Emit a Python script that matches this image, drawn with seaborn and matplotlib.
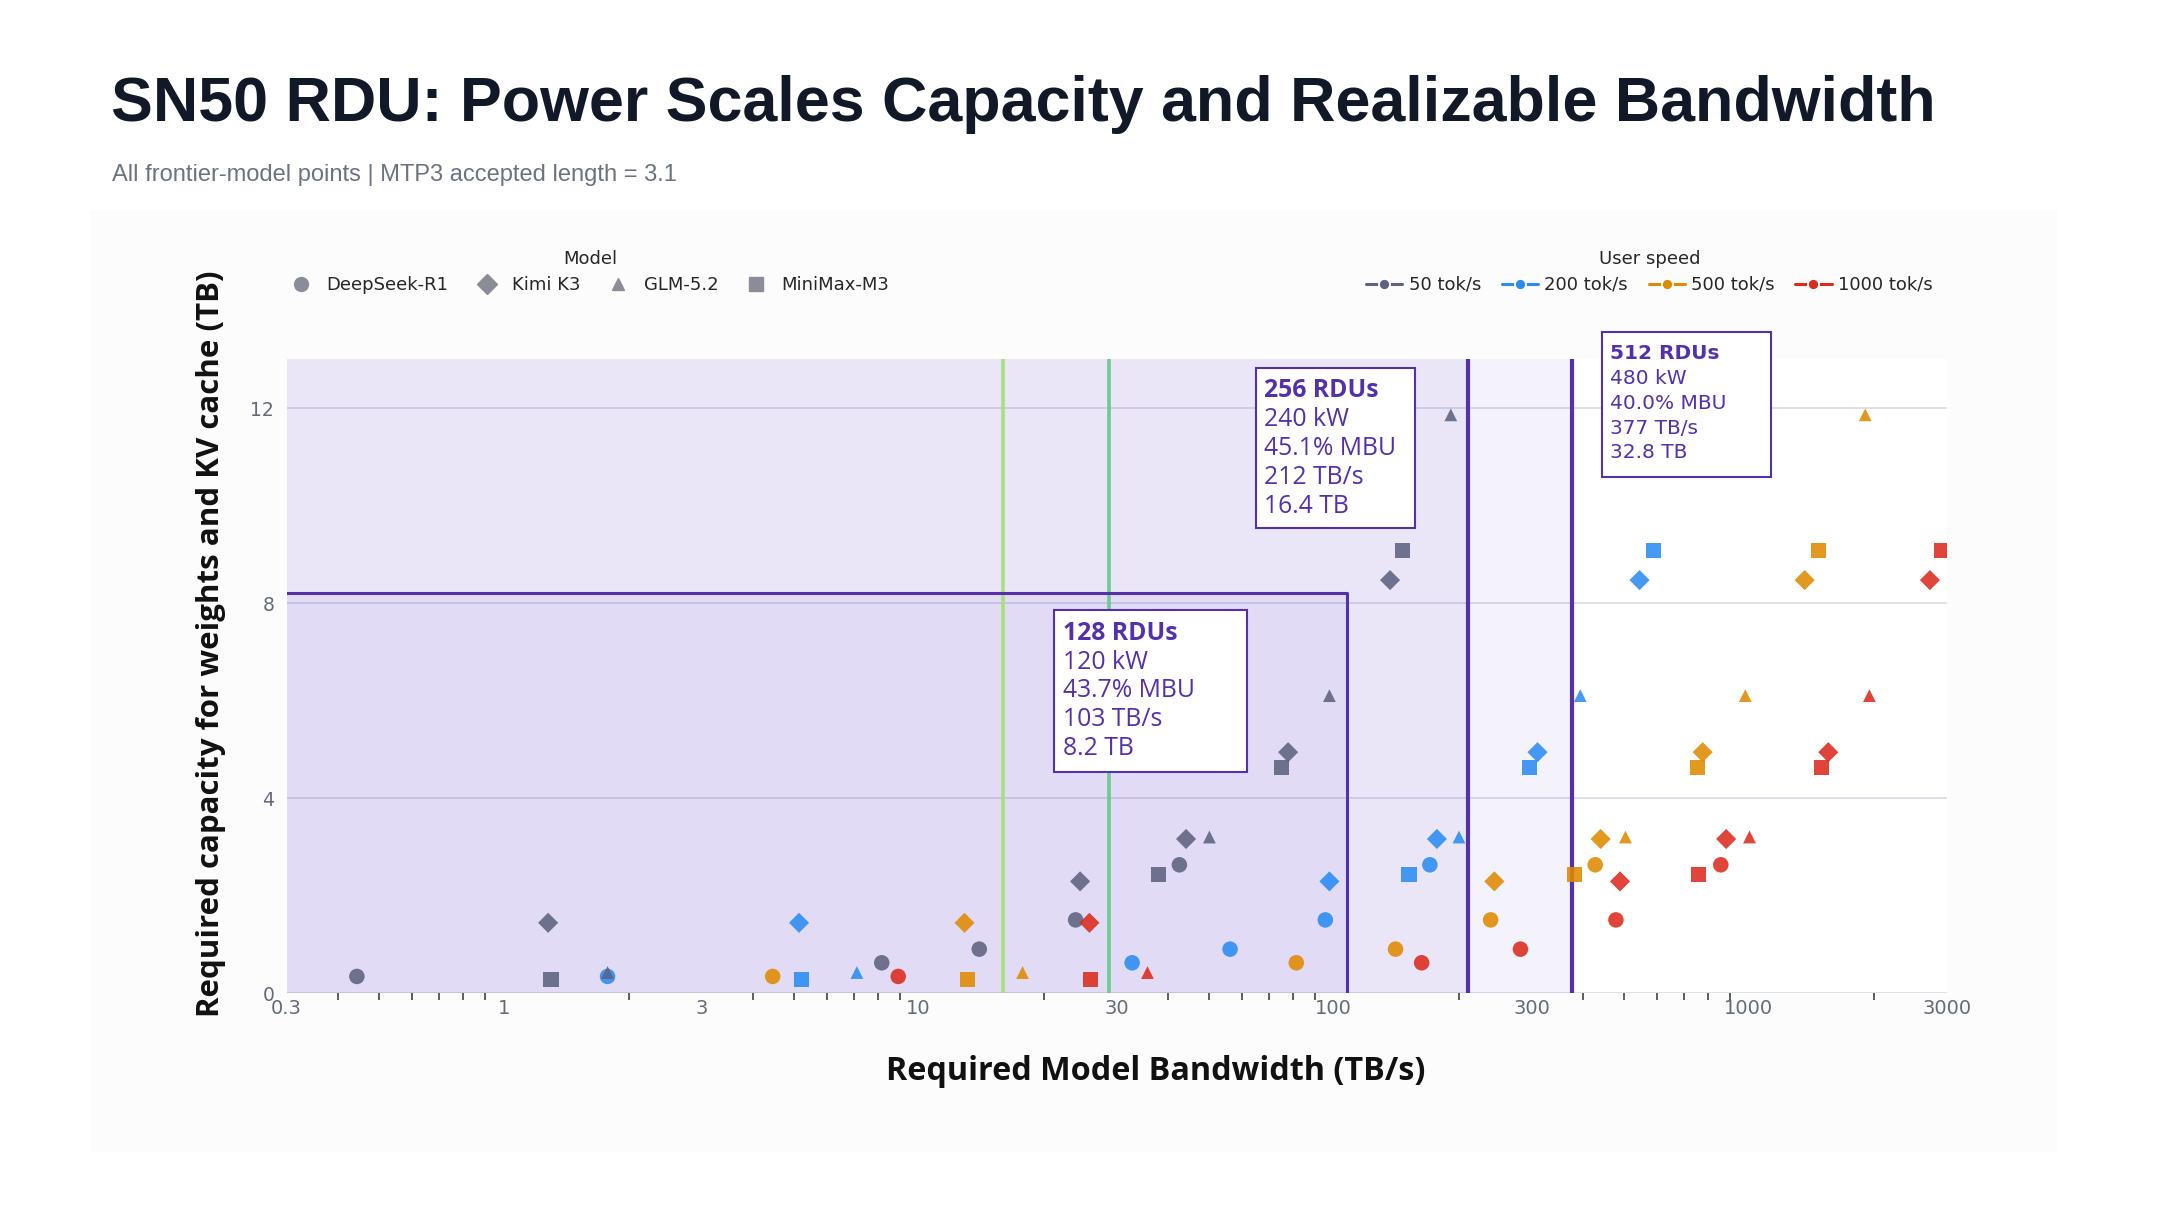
"""SN50 RDU: capacity vs bandwidth for frontier models at several user speeds."""

import matplotlib.pyplot as plt
import matplotlib.ticker as mticker
import pandas as pd
import seaborn as sns
from matplotlib.lines import Line2D
from matplotlib.patches import Rectangle

models = ["DeepSeek-R1", "Kimi K3", "GLM-5.2", "MiniMax-M3"]
model_markers = {"DeepSeek-R1": "o", "Kimi K3": "D", "GLM-5.2": "^", "MiniMax-M3": "s"}
model_sizes = {"DeepSeek-R1": 125, "Kimi K3": 105, "GLM-5.2": 85, "MiniMax-M3": 120}

speeds = ["50 tok/s", "200 tok/s", "500 tok/s", "1000 tok/s"]
speed_colors = {"50 tok/s": "#5d6280", "200 tok/s": "#2b8cf2",
                "500 tok/s": "#e08a00", "1000 tok/s": "#db2b1d"}

# one entry per model configuration (capacity is the same at every speed)
config_model = ["DeepSeek-R1", "Kimi K3", "MiniMax-M3", "GLM-5.2", "DeepSeek-R1",
                "DeepSeek-R1", "DeepSeek-R1", "Kimi K3", "MiniMax-M3", "DeepSeek-R1",
                "Kimi K3", "GLM-5.2", "MiniMax-M3", "Kimi K3", "GLM-5.2",
                "Kimi K3", "MiniMax-M3", "GLM-5.2"]
capacity_tb = [0.34, 1.44, 0.28, 0.42, 0.62, 0.90, 1.50, 2.29, 2.43, 2.63,
               3.16, 3.20, 4.63, 4.94, 6.10, 8.47, 9.07, 11.86]

# required bandwidth (TB/s) per configuration at each user speed
bw_50 = [0.443, 1.28, 1.30, 1.78, 8.15, 14.0, 23.9, 24.5, 37.8, 42.5,
         44.1, 50.2, 74.8, 77.7, 97.7, 136.8, 146.5, 191.6]
bw_200 = [1.78, 5.15, 5.23, 7.1, 32.7, 56.3, 95.5, 97.7, 152, 170.6,
          177.4, 200.5, 296, 310, 393, 546, 589, 766]
bw_500 = [4.45, 12.9, 13.1, 17.8, 81.3, 141, 239, 244, 381, 427,
          440, 505, 752, 775, 982, 1365, 1472, 1910]
bw_1000 = [8.93, 25.8, 26.0, 35.6, 163, 282, 479, 490, 758, 857,
           883, 1005, 1496, 1556, 1955, 2735, 2911, None]

# RDU cluster envelopes
rdu_names = ["128 RDUs", "256 RDUs", "512 RDUs"]
rdu_power = ["120 kW", "240 kW", "480 kW"]
rdu_mbu = ["43.7% MBU", "45.1% MBU", "40.0% MBU"]
rdu_bw = [103, 212, 377]
rdu_cap = [8.2, 16.4, 32.8]
rdu_edge_bw = [107.5, 211, 376]  # where the envelope edges are drawn

# reference bandwidth lines
ref_bw = [16.0, 28.7]
ref_colors = ["#a9e07f", "#6dca92"]

xticks = [0.3, 1, 3, 10, 30, 100, 300, 1000, 3000]
xtick_labels = ["0.3", "1", "3", "10", "30", "100", "300", "1000", "3000"]
yticks = [0, 4, 8, 12]

PURPLE = "#5530ad"


def main():
    sns.set_theme(style="white")
    plt.rcParams["font.family"] = ["DejaVu Sans"]

    rows = []
    for speed, bws in zip(speeds, [bw_50, bw_200, bw_500, bw_1000]):
        for model, cap, bw in zip(config_model, capacity_tb, bws):
            if bw is not None:
                rows.append({"model": model, "speed": speed, "bandwidth": bw, "capacity": cap})
    df = pd.DataFrame(rows)

    fig = plt.figure(figsize=(21.6, 12.15), dpi=100)
    fig.patches.append(Rectangle((0.0417, 0.052), 0.9106, 0.7753, transform=fig.transFigure,
                                 facecolor="#fcfcfc", edgecolor="none", zorder=-10))
    ax = fig.add_axes([0.1327, 0.1827, 0.7685, 0.5216])
    ax.set_facecolor("white")

    # cluster shading and outlines
    for i, (bw, cap) in enumerate(zip(rdu_edge_bw, rdu_cap)):
        ax.fill_between([0.01, bw], 0, cap, color="#7a5cd6", alpha=0.08, lw=0, zorder=1)
        ax.plot([0.01, bw, bw], [cap, cap, 0], color=PURPLE,
                lw=2.2 if i == 0 else 3.0, zorder=3, solid_capstyle="butt")

    for bw, c in zip(ref_bw, ref_colors):
        ax.axvline(bw, color=c, lw=2.6, zorder=2)

    for model in models:
        sns.scatterplot(data=df[df["model"] == model], x="bandwidth", y="capacity",
                        hue="speed", hue_order=speeds, palette=speed_colors,
                        marker=model_markers[model], s=model_sizes[model],
                        alpha=0.88, edgecolor="none", legend=False, ax=ax, zorder=4)

    ax.set_xscale("log")
    ax.set_xlim(0.3, 3000)
    ax.set_ylim(0, 13)
    ax.xaxis.set_major_locator(mticker.FixedLocator(xticks))
    ax.xaxis.set_major_formatter(mticker.FixedFormatter(xtick_labels))
    ax.xaxis.set_minor_locator(mticker.LogLocator(base=10, subs=[2, 4, 5, 6, 7, 8, 9]))
    ax.xaxis.set_minor_formatter(mticker.NullFormatter())
    ax.set_yticks(yticks)
    ax.tick_params(axis="x", which="major", length=0, pad=4, labelsize=14, labelcolor="#646b78")
    ax.tick_params(axis="x", which="minor", length=5, width=1.1, color="#333333", bottom=True)
    ax.tick_params(axis="y", length=0, pad=9, labelsize=13.5, labelcolor="#646b78")
    ax.set_axisbelow(True)
    ax.grid(axis="y", color="#dedce6", lw=1.3)
    ax.grid(axis="x", visible=False)
    for sp in ax.spines.values():
        sp.set_visible(False)
    ax.set_xlabel("")
    ax.set_ylabel("")

    # annotation boxes (axes fraction layout)
    boxes = [
        dict(rect=(0.4622, 0.3492, 0.1165, 0.2556), tx=0.4675, ty=0.5676, dy=0.0454,
             family="Open Sans", size=17.8),
        dict(rect=(0.584, 0.733, 0.096, 0.254), tx=0.589, ty=0.950, dy=0.0457,
             family="Open Sans", size=17.8),
        dict(rect=(0.7925, 0.815, 0.1015, 0.2285), tx=0.7975, ty=1.0087, dy=0.0391,
             family="DejaVu Sans", size=14.5),
    ]
    for i, b in enumerate(boxes):
        x0, y0, w, h = b["rect"]
        ax.add_patch(Rectangle((x0, y0), w, h, transform=ax.transAxes, facecolor="white",
                               edgecolor=PURPLE, lw=1.5, zorder=6, clip_on=False))
        lines = [rdu_names[i], rdu_power[i], rdu_mbu[i],
                 f"{rdu_bw[i]} TB/s", f"{rdu_cap[i]} TB"]
        for j, line in enumerate(lines):
            ax.text(b["tx"], b["ty"] - j * b["dy"], line, transform=ax.transAxes,
                    ha="left", va="center", color=PURPLE, fontsize=b["size"],
                    family=b["family"], fontweight="bold" if j == 0 else "normal",
                    zorder=7, clip_on=False)

    # legends
    model_handles = [Line2D([], [], ls="none", marker=model_markers[m], color="#8a8d97",
                            markersize=10 if m != "GLM-5.2" else 8.5, label=m)
                     for m in models]
    leg1 = ax.legend(handles=model_handles, title="Model", ncol=4, frameon=False,
                     loc="center left", bbox_to_anchor=(-0.002, 1.138), fontsize=13,
                     title_fontsize=13, handlelength=1.0, handletextpad=0.9,
                     columnspacing=1.6, borderpad=0, labelspacing=0.45)
    ax.add_artist(leg1)
    speed_handles = [Line2D([], [], color=speed_colors[s], lw=2.2, marker="o",
                            markersize=8, markeredgecolor="white", markeredgewidth=1.3,
                            label=s) for s in speeds]
    ax.legend(handles=speed_handles, title="User speed", ncol=4, frameon=False,
              loc="center right", bbox_to_anchor=(0.997, 1.138), fontsize=13,
              title_fontsize=13, handlelength=2.0, handletextpad=0.35,
              columnspacing=1.15, borderpad=0, labelspacing=0.45)

    fig.text(0.0513, 0.914, "SN50 RDU: Power Scales Capacity and Realizable Bandwidth",
             fontsize=45.2, fontweight="bold", family="Liberation Sans", color="#111827",
             ha="left", va="center")
    fig.text(0.052, 0.856, "All frontier-model points | MTP3 accepted length = 3.1",
             fontsize=17, family="Liberation Sans", color="#6b7280", ha="left", va="center")
    fig.text(0.0975, 0.47, "Required capacity for weights and KV cache (TB)", rotation=90,
             fontsize=22.5, fontweight="bold", family="Open Sans", color="#111111",
             ha="center", va="center")
    fig.text(0.535, 0.118, "Required Model Bandwidth (TB/s)", fontsize=23.3,
             fontweight="bold", family="Open Sans", color="#111111", ha="center", va="center")

    fig.savefig("out.png", dpi=100)


if __name__ == "__main__":
    main()
